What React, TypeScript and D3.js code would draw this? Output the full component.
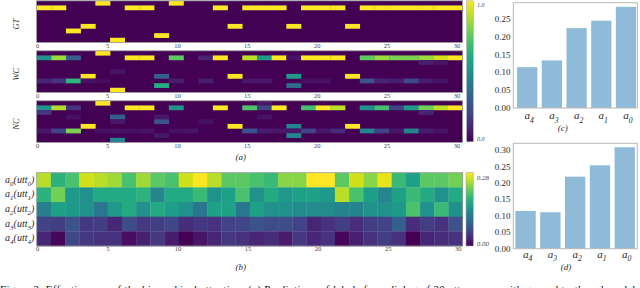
import React, { useEffect, useRef } from 'react';
import * as d3 from 'd3';

// (a) label predictions: 9 label rows x 29 utterances, sparse [row, col, value]
const nLabels = 9;
const nUtt = 29;
const gtCells = [
  [0, 4, 1], [0, 9, 1],
  [1, 0, 1], [1, 1, 1], [1, 6, 1], [1, 7, 1], [1, 12, 1], [1, 14, 1], [1, 15, 1], [1, 16, 1],
  [1, 18, 1], [1, 19, 1], [1, 20, 1], [1, 22, 1], [1, 23, 1], [1, 24, 1], [1, 25, 1], [1, 26, 1],
  [1, 27, 1], [1, 28, 1],
  [5, 3, 1], [5, 13, 1], [5, 17, 1], [5, 21, 1],
  [6, 2, 1],
  [7, 8, 1],
  [8, 5, 1],
];
const wcCells = [
  [0, 4, 1],
  [1, 0, 0.5], [1, 1, 0.85], [1, 2, 0.3], [1, 6, 1], [1, 7, 1], [1, 9, 0.75], [1, 11, 0.1],
  [1, 12, 1], [1, 14, 0.9], [1, 15, 0.55], [1, 16, 1], [1, 17, 0.05], [1, 18, 1], [1, 19, 1],
  [1, 20, 1], [1, 22, 0.75], [1, 23, 0.85], [1, 24, 0.8], [1, 25, 0.8], [1, 26, 0.85],
  [1, 27, 0.93], [1, 28, 1],
  [2, 26, 0.08], [2, 27, 0.05],
  [4, 5, 0.05],
  [5, 3, 1], [5, 8, 0.3], [5, 13, 1], [5, 17, 0.55], [5, 21, 1],
  [6, 0, 0.1], [6, 1, 0.15], [6, 2, 0.65], [6, 3, 0.04], [6, 4, 0.03], [6, 9, 0.08],
  [6, 11, 0.08], [6, 14, 0.06], [6, 15, 0.06], [6, 18, 0.04], [6, 19, 0.04], [6, 22, 0.25],
  [6, 23, 0.1], [6, 24, 0.08], [6, 25, 0.22], [6, 26, 0.08], [6, 27, 0.05],
  [7, 8, 0.62], [7, 17, 0.35],
  [8, 5, 1],
];
const ncCells = [
  [0, 4, 1], [0, 15, 0.06],
  [1, 0, 0.5], [1, 1, 0.88], [1, 2, 0.15], [1, 6, 1], [1, 7, 1], [1, 9, 0.5], [1, 12, 1],
  [1, 14, 0.72], [1, 15, 0.2], [1, 16, 1], [1, 18, 0.7], [1, 19, 1], [1, 20, 0.9],
  [1, 22, 0.5], [1, 23, 0.7], [1, 24, 0.2], [1, 25, 0.55], [1, 26, 0.78], [1, 27, 0.9], [1, 28, 1],
  [2, 0, 0.15], [2, 26, 0.1],
  [3, 2, 0.04], [3, 5, 0.3], [3, 8, 0.06], [3, 15, 0.05],
  [4, 5, 0.06], [4, 8, 0.25], [4, 11, 0.04],
  [5, 3, 1], [5, 13, 1], [5, 17, 0.45], [5, 21, 1],
  [6, 0, 0.06], [6, 1, 0.2], [6, 2, 0.8], [6, 4, 0.04], [6, 5, 0.05], [6, 6, 0.04], [6, 7, 0.05],
  [6, 9, 0.04], [6, 10, 0.05], [6, 14, 0.25], [6, 15, 0.08], [6, 16, 0.06], [6, 17, 0.06],
  [6, 18, 0.2], [6, 19, 0.06], [6, 20, 0.12], [6, 22, 0.45], [6, 23, 0.2], [6, 24, 0.06],
  [6, 25, 0.45], [6, 26, 0.08], [6, 27, 0.05],
  [7, 8, 0.06], [7, 17, 0.45],
  [8, 5, 0.45],
];
const panelNames = ['GT', 'WC', 'NC'];
const uttTicks = [0, 5, 10, 15, 20, 25, 30];

// (b) attention per level over 30 utterances
const attnLevels = ['0', '1', '2', '3', '4'];
const attnA0 = [0.25, 0.18, 0.2, 0.26, 0.25, 0.24, 0.2, 0.24, 0.21, 0.2, 0.26, 0.28, 0.25, 0.21, 0.21,
  0.2, 0.19, 0.23, 0.23, 0.28, 0.28, 0.21, 0.26, 0.23, 0.27, 0.19, 0.16, 0.21, 0.21, 0.22];
const attnA1 = [0.18, 0.22, 0.15, 0.14, 0.17, 0.17, 0.17, 0.18, 0.13, 0.17, 0.17, 0.19, 0.14, 0.16, 0.2,
  0.14, 0.17, 0.15, 0.16, 0.16, 0.15, 0.25, 0.2, 0.155, 0.13, 0.16, 0.19, 0.17, 0.14, 0.17];
const attnA2 = [0.12, 0.16, 0.15, 0.14, 0.11, 0.15, 0.17, 0.14, 0.17, 0.155, 0.14, 0.11, 0.16, 0.16, 0.11,
  0.16, 0.14, 0.14, 0.135, 0.135, 0.135, 0.125, 0.125, 0.14, 0.14, 0.15, 0.2, 0.14, 0.19, 0.14];
const attnA3 = [0.055, 0.05, 0.07, 0.045, 0.05, 0.03, 0.065, 0.045, 0.05, 0.06, 0.035, 0.045, 0.04, 0.055, 0.06,
  0.07, 0.065, 0.065, 0.055, 0.03, 0.04, 0.05, 0.035, 0.05, 0.055, 0.085, 0.035, 0.05, 0.04, 0.07];
const attnA4 = [0.03, 0.005, 0.06, 0.045, 0.04, 0.04, 0.01, 0.025, 0.045, 0.02, 0.0, 0.015, 0.03, 0.045, 0.04,
  0.03, 0.035, 0.02, 0.045, 0.03, 0.04, 0.005, 0.025, 0.04, 0.05, 0.04, 0.0, 0.03, 0.035, 0.04];
const attnMax = 0.28;

// (c), (d) mean attention per level
const barLevels = ['4', '3', '2', '1', '0'];
const barsC = [0.115, 0.134, 0.225, 0.246, 0.285];
const barsD = [0.115, 0.111, 0.2195, 0.254, 0.309];
const ticksC = [0, 0.05, 0.1, 0.15, 0.2, 0.25];
const ticksD = [0, 0.05, 0.1, 0.15, 0.2, 0.25, 0.3];

const serif = 'Liberation Serif, Times New Roman, DejaVu Serif, serif';
const ink = '#2a2a2a';

// writes a label like a_0(utt_0) with subscripts
const subText = (text, parts, size) => {
  parts.forEach(([s, sub], i) => {
    const prevSub = i > 0 && parts[i - 1][1];
    const dy = sub && !prevSub ? size * 0.32 : !sub && prevSub ? -size * 0.32 : 0;
    text.append('tspan')
      .attr('dy', dy)
      .attr('font-size', sub ? size * 0.7 : size)
      .text(s);
  });
};

// every text gets the serif face explicitly
const addText = (parent) => parent.append('text').attr('font-family', serif);

const App = () => {
  const svgRef = useRef(null);

  useEffect(() => {
    const svg = d3.select(svgRef.current);
    svg.selectAll('*').remove();

    const grad = svg.append('defs').append('linearGradient')
      .attr('id', 'viridis').attr('x1', 0).attr('y1', 1).attr('x2', 0).attr('y2', 0);
    d3.range(11).forEach(i => grad.append('stop')
      .attr('offset', i / 10).attr('stop-color', d3.interpolateViridis(i / 10)));

    // ---- (a) three label panels
    const left = 36.6;
    const right = 462.6;
    const panelH = 41.6;
    const x = d3.scaleBand().domain(d3.range(nUtt)).range([left, right]);
    const y = d3.scaleBand().domain(d3.range(nLabels)).range([0, panelH]);
    const tickX = d3.scaleLinear().domain([0, 30]).range([37.7, 457]);
    const color01 = d3.scaleSequential(d3.interpolateViridis).domain([0, 1]);
    const panelTops = [0.8, 50.8, 100.8];

    [gtCells, wcCells, ncCells].forEach((cells, i) => {
      const g = svg.append('g').attr('transform', `translate(0,${panelTops[i]})`);
      g.append('rect')
        .attr('x', left).attr('y', 0).attr('width', right - left).attr('height', panelH)
        .attr('fill', color01(0));
      g.selectAll('rect.cell')
        .data(cells)
        .join('rect')
        .attr('class', 'cell')
        .attr('x', d => x(d[1]))
        .attr('y', d => y(d[0]))
        .attr('width', x.bandwidth() + 0.3)
        .attr('height', y.bandwidth() + 0.2)
        .attr('fill', d => color01(d[2]));
      g.append('rect')
        .attr('x', left).attr('y', 0).attr('width', right - left).attr('height', panelH)
        .attr('fill', 'none').attr('stroke', '#9a9a9a').attr('stroke-width', 0.8);
      uttTicks.forEach(t => addText(g)
        .attr('x', tickX(t))
        .attr('y', panelH + 5.6)
        .attr('text-anchor', 'middle')
        .attr('fill', '#444')
        .attr('font-size', 6.5)
        .text(t));
      addText(g)
        .attr('transform', `translate(18.6,${panelH / 2 + 2.5}) rotate(-90)`)
        .attr('text-anchor', 'middle')
        .attr('fill', ink)
        .attr('font-size', 8.5)
        .attr('font-style', 'italic')
        .text(panelNames[i]);
    });

    svg.append('rect')
      .attr('x', 466.7).attr('y', 0.8).attr('width', 6.6).attr('height', 141)
      .attr('fill', 'url(#viridis)').attr('stroke', '#aaa').attr('stroke-width', 0.6);
    [['1.0', 7.3], ['0.0', 140.7]].forEach(([t, ty]) => addText(svg)
      .attr('x', 477).attr('y', ty).attr('fill', '#444')
      .attr('font-size', 6).attr('font-style', 'italic').text(t));

    addText(svg)
      .attr('x', 240.7).attr('y', 159.6).attr('text-anchor', 'middle').attr('fill', ink)
      .attr('font-size', 9).attr('font-style', 'italic').text('(a)');

    // ---- (b) attention heatmap
    const attnRows = [attnA0, attnA1, attnA2, attnA3, attnA4];
    const xb = d3.scaleBand().domain(d3.range(attnA0.length)).range([36.7, 462.7]);
    const yb = d3.scaleBand().domain(attnLevels).range([172.7, 246]);
    const colorB = d3.scaleSequential(d3.interpolateViridis).domain([0, attnMax]);
    const tickXb = d3.scaleLinear().domain([0, 30]).range([37.7, 458.3]);

    attnRows.forEach((row, r) => {
      svg.append('g').selectAll('rect')
        .data(row)
        .join('rect')
        .attr('x', (d, c) => xb(c))
        .attr('y', yb(attnLevels[r]))
        .attr('width', xb.bandwidth() + 0.3)
        .attr('height', yb.bandwidth() + 0.3)
        .attr('fill', d => colorB(d));
      const label = addText(svg)
        .attr('x', 34.3)
        .attr('y', yb(attnLevels[r]) + yb.bandwidth() / 2 + 2.5)
        .attr('text-anchor', 'end')
        .attr('fill', ink)
        .attr('font-style', 'italic');
      subText(label, [['a', false], [attnLevels[r], true], ['(utt', false], [attnLevels[r], true], [')', false]], 10);
    });
    svg.append('rect')
      .attr('x', 36.7).attr('y', 172.7).attr('width', 426).attr('height', 73.3)
      .attr('fill', 'none').attr('stroke', '#9a9a9a').attr('stroke-width', 0.8);
    uttTicks.forEach(t => addText(svg)
      .attr('x', tickXb(t))
      .attr('y', 251.4)
      .attr('text-anchor', 'middle')
      .attr('fill', '#444')
      .attr('font-size', 6.5)
      .text(t));

    svg.append('rect')
      .attr('x', 466).attr('y', 172.7).attr('width', 7.3).attr('height', 73.3)
      .attr('fill', 'url(#viridis)').attr('stroke', '#aaa').attr('stroke-width', 0.6);
    [['0.28', 180], ['0.00', 246.3]].forEach(([t, ty]) => addText(svg)
      .attr('x', 476.7).attr('y', ty).attr('fill', '#444')
      .attr('font-size', 7).attr('font-style', 'italic').text(t));

    addText(svg)
      .attr('x', 240.7).attr('y', 270.2).attr('text-anchor', 'middle').attr('fill', ink)
      .attr('font-size', 9).attr('font-style', 'italic').text('(b)');

    // ---- (c), (d) bar charts
    const drawBars = (values, ticks, top, bottom, yMax, band, labelY, cap, capX, capY) => {
      const xs = d3.scaleBand().domain(barLevels).range(band).paddingInner(0.18);
      const ys = d3.scaleLinear().domain([0, yMax]).range([bottom, top]);
      const g = svg.append('g');
      g.selectAll('rect.bar')
        .data(values)
        .join('rect')
        .attr('class', 'bar')
        .attr('x', (d, i) => xs(barLevels[i]))
        .attr('y', d => ys(d))
        .attr('width', xs.bandwidth())
        .attr('height', d => ys(0) - ys(d))
        .attr('fill', '#8fbbd9');
      g.append('rect')
        .attr('x', 513.3).attr('y', top).attr('width', 124).attr('height', bottom - top)
        .attr('fill', 'none').attr('stroke', '#b8b8b8').attr('stroke-width', 1);
      ticks.forEach(t => addText(g)
        .attr('x', 510.6)
        .attr('y', ys(t) + 3)
        .attr('text-anchor', 'end')
        .attr('fill', ink)
        .attr('font-size', 9)
        .text(d3.format('.2f')(t)));
      barLevels.forEach(lv => {
        const t = addText(g)
          .attr('x', xs(lv) + xs.bandwidth() / 2 + 2)
          .attr('y', labelY)
          .attr('text-anchor', 'middle')
          .attr('fill', ink)
          .attr('font-style', 'italic');
        subText(t, [['a', false], [lv, true]], 11);
      });
      addText(g)
        .attr('x', capX).attr('y', capY).attr('text-anchor', 'middle').attr('fill', ink)
        .attr('font-size', 9).attr('font-style', 'italic').text(cap);
    };
    drawBars(barsC, ticksC, 2.7, 108, 0.2966, [517.1, 636.1], 119, '(c)', 562.7, 131);
    drawBars(barsD, ticksD, 143.3, 248.7, 0.321, [515.4, 634.9], 257.6, '(d)', 566, 269.6);

    // ---- caption, cut off by the bottom edge as in the page crop
    addText(svg)
      .attr('x', 0).attr('y', 292.6)
      .attr('fill', '#111')
      .attr('textLength', 640)
      .attr('lengthAdjust', 'spacing')
      .attr('font-size', 11)
      .text('Figure 3: Effectiveness of the hierarchical attention: (a) Predictions of labels for a dialog of 30 utterances, with ground truth and models');
  }, []);

  return (
    <svg
      ref={svgRef}
      width={640}
      height={288}
      viewBox="0 0 640 288"
      style={{ position: 'absolute', left: 0, top: 0, background: '#fff' }}
    />
  );
};

export default App;
